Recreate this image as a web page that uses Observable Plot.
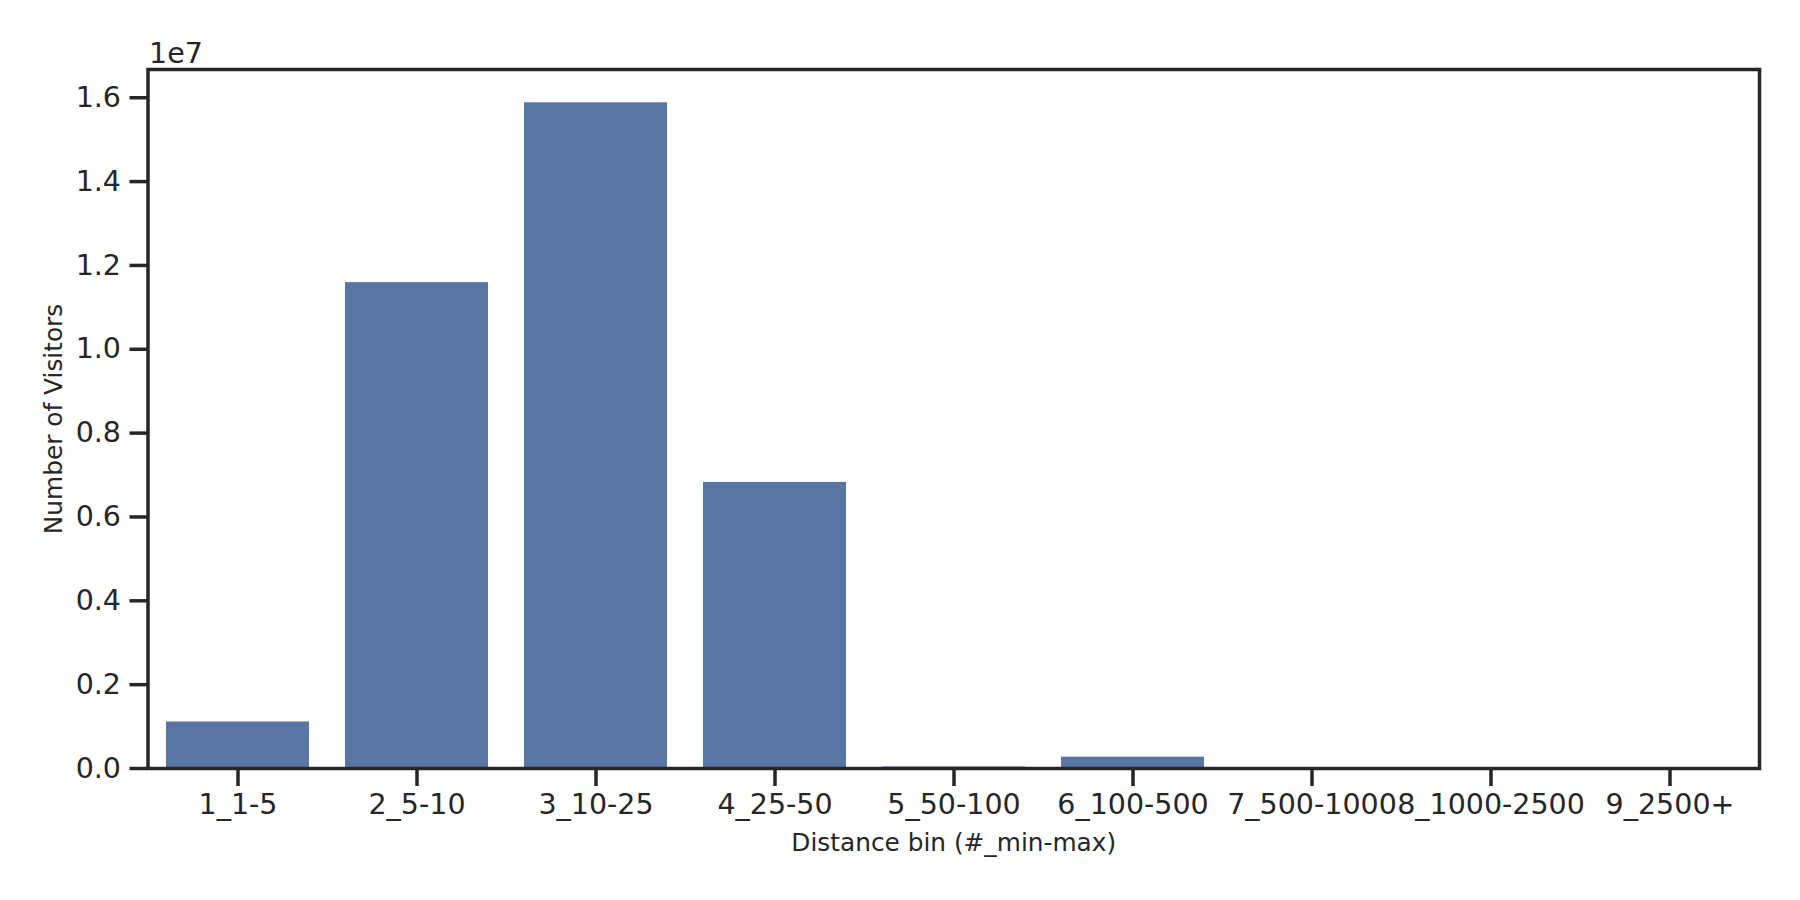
<!DOCTYPE html>
<html>
<head>
<meta charset="utf-8">
<script src="https://cdn.jsdelivr.net/npm/d3@7"></script>
<script src="https://cdn.jsdelivr.net/npm/@observablehq/plot@0.6"></script>
<style>
  html, body { margin: 0; padding: 0; background: #ffffff; }
  #chart svg { display: block; }
</style>
</head>
<body>
<div id="chart"></div>
<script>
const categories = ["1_1-5", "2_5-10", "3_10-25", "4_25-50", "5_50-100", "6_100-500", "7_500-1000", "8_1000-2500", "9_2500+"];
const visitors = [1110000, 11590000, 15880000, 6825000, 35000, 270000, 3000, 1000, 500];
const yTicks = [0, 2e6, 4e6, 6e6, 8e6, 10e6, 12e6, 14e6, 16e6];

const data = categories.map((c, i) => ({bin: c, value: visitors[i]}));
const ink = "#262626";
const font = "DejaVu Sans, sans-serif";

const chart = Plot.plot({
  width: 1800,
  height: 900,
  marginLeft: 147.5,
  marginRight: 41,
  marginTop: 69,
  marginBottom: 132,
  style: {fontFamily: font, color: ink, background: "#ffffff"},
  x: {domain: categories, paddingInner: 0.2, paddingOuter: 0.1, align: 0.5},
  y: {domain: [0, 1.05 * d3.max(visitors)]},
  marks: [
    Plot.barY(data, {x: "bin", y: "value", fill: "#5975a4"}),
    Plot.axisX({tickSize: 18, tickPadding: 7, fontSize: 28.5, stroke: ink, strokeWidth: 3.5, label: null, fill: ink}),
    Plot.axisY({ticks: yTicks, tickFormat: d => (d / 1e7).toFixed(1), tickSize: 18, tickPadding: 9, fontSize: 28.5, stroke: ink, strokeWidth: 3.5, label: null, fill: ink}),
    Plot.frame({stroke: ink, strokeWidth: 3.5}),
    Plot.text(["1e7"], {frameAnchor: "top-left", textAnchor: "start", lineAnchor: "middle", dx: 1, dy: -16, fontSize: 28.5, fill: ink}),
    Plot.text(["Number of Visitors"], {frameAnchor: "left", textAnchor: "middle", lineAnchor: "middle", rotate: -90, dx: -94, fontSize: 24.8, fill: ink}),
    Plot.text(["Distance bin (#_min-max)"], {frameAnchor: "bottom", textAnchor: "middle", lineAnchor: "middle", dy: 75, fontSize: 24.8, fill: ink})
  ]
});
document.getElementById("chart").appendChild(chart);
</script>
</body>
</html>
